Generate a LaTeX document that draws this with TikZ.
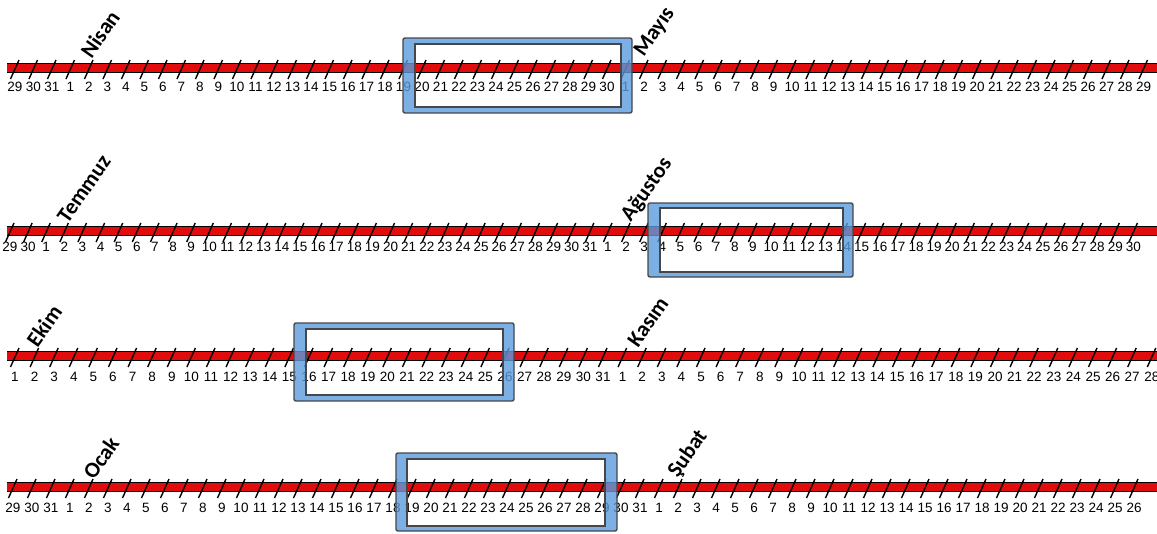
\documentclass[tikz,border=0pt]{standalone}
\usepackage{fontspec}
\usepackage{xcolor}
\usepackage{tikz}
\usetikzlibrary{calc,positioning}
\setmainfont{Carlito}
\newfontfamily\numfont{Liberation Sans}
\definecolor{bandred}{RGB}{225,12,12}
\definecolor{frameblue}{RGB}{91,155,220}
\definecolor{framegray}{RGB}{70,70,75}
\tikzset{
	bandline/.style={draw=black, line width=0.9pt, double=bandred, double distance=7.5pt},
	daytick/.style={draw=black, line width=1.4pt},
	daylbl/.style={inner sep=0pt, font=\numfont\fontsize{13.5}{13.5}\selectfont, text=black},
	monthlbl/.style={inner sep=0pt, rotate=55, font=\bfseries\fontsize{22}{22}\selectfont, text=black},
	framefill/.style={fill=frameblue, fill opacity=0.8, even odd rule},
	frameline/.style={draw=framegray, line width=1.4pt}
}
% #1 row name, #2 line y, #3 first x, #4 step, #5 label gap, #6 days
\newcommand{\dayline}[6]{
	\draw[bandline] (7,#2) -- (1157,#2);
	\foreach \d [count=\i from 0] in {#6} {
		\pgfmathsetmacro{\tx}{#3+#4*\i}
		\draw[daytick] (\tx-4.5,#2+11) -- (\tx+4,#2-8);
		\node[daylbl] (#1d\i) at (\tx,#2+#5) {\d};
	}
}

\begin{document}
\begin{tikzpicture}[x=1pt, y=-1pt]
		
		\useasboundingbox (0,0) rectangle (1157,533);
		
		% rows of days
		\dayline{r1}{68}{15}{18.5}{19}{29,30,31,1,2,...,30,1,2,...,29}
		\dayline{r2}{231}{10}{18.12}{16}{29,30,1,2,...,31,1,2,...,30}
		\dayline{r3}{356}{15}{19.6}{21}{1,2,...,31,1,2,...,28}
		\dayline{r4}{487}{13}{19}{21}{29,30,31,1,2,...,31,1,2,...,26}
		
		% month names
		\node[monthlbl] (nisan) at (100,34) {Nisan};
		\node[monthlbl] (mayis) at (655,32) {Mayıs};
		\node[monthlbl] (temmuz) at (84,189) {Temmuz};
		\node[monthlbl] (agustos) at (647,190) {Ağustos};
		\node[monthlbl] (ekim) at (44,326) {Ekim};
		\node[monthlbl] (kasim) at (648,322) {Kasım};
		\node[monthlbl] (ocak) at (101,458) {Ocak};
		\node[monthlbl] (subat) at (688,454) {Şubat};
		
		% frames
		\fill[framefill] [rounded corners=2pt] (403,38) rectangle (632,113) [sharp corners] (415,44) rectangle (621,107);
		\draw[frameline, rounded corners=2pt] (403,38) rectangle (632,113);
		\draw[frameline] (415,44) rectangle (621,107);
		
		\fill[framefill] [rounded corners=2pt] (648,203) rectangle (853,277) [sharp corners] (660,208) rectangle (843,272);
		\draw[frameline, rounded corners=2pt] (648,203) rectangle (853,277);
		\draw[frameline] (660,208) rectangle (843,272);
		
		\fill[framefill] [rounded corners=2pt] (294,323) rectangle (514,401) [sharp corners] (306,329) rectangle (503,395);
		\draw[frameline, rounded corners=2pt] (294,323) rectangle (514,401);
		\draw[frameline] (306,329) rectangle (503,395);
		
		\fill[framefill] [rounded corners=2pt] (396,453) rectangle (617,531) [sharp corners] (407,459) rectangle (605,526);
		\draw[frameline, rounded corners=2pt] (396,453) rectangle (617,531);
		\draw[frameline] (407,459) rectangle (605,526);
		
		\end{tikzpicture}
\end{document}
